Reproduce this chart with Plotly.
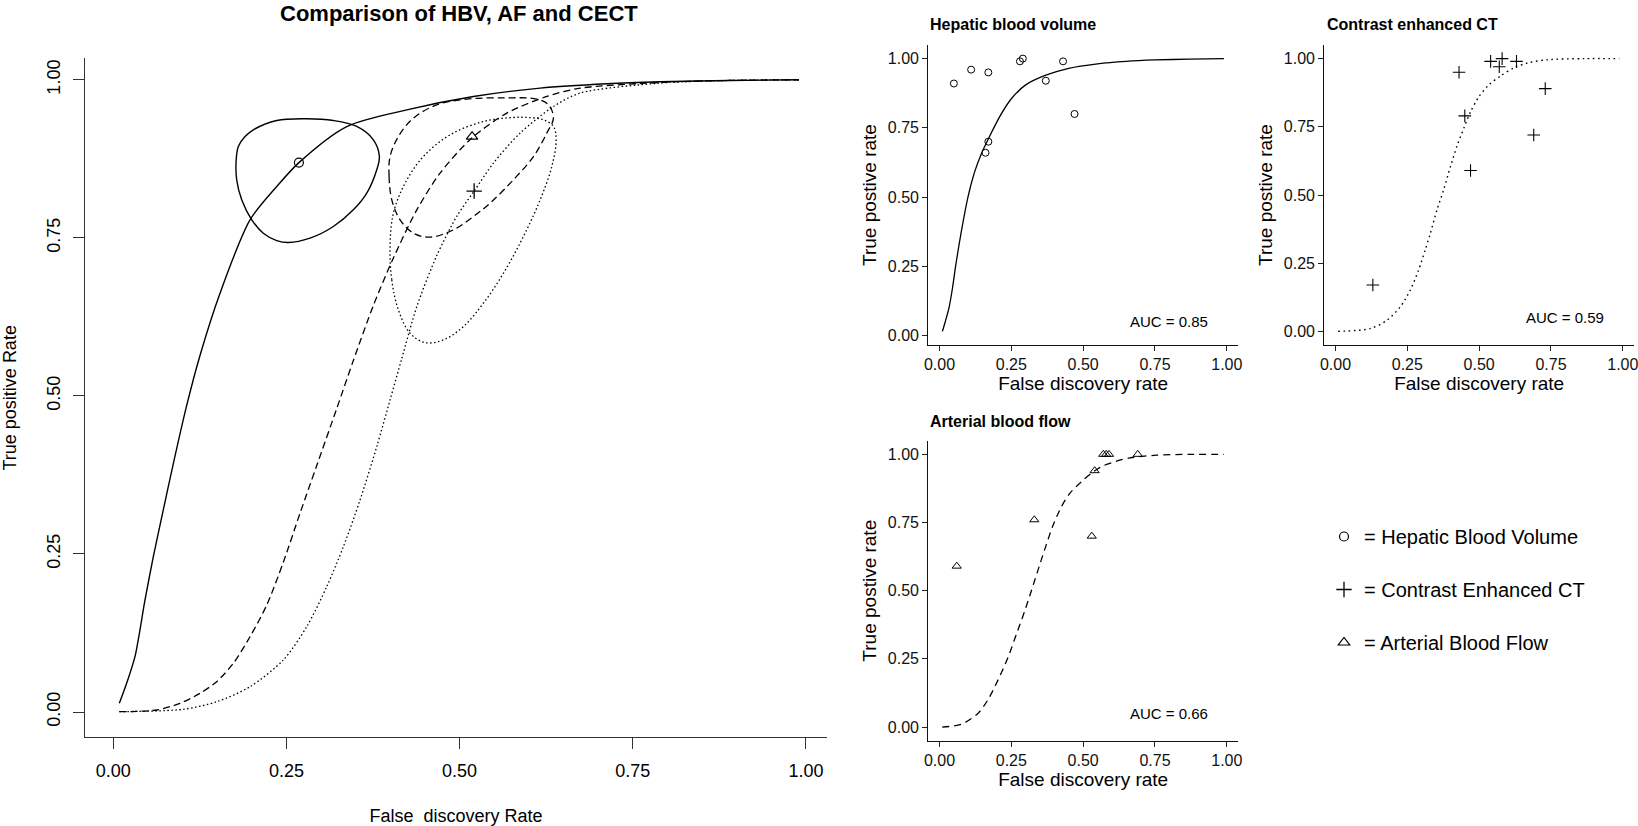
import plotly.graph_objects as go

W, H = 1638, 826

# ---------------- data ----------------
tick_vals = [0, 0.25, 0.5, 0.75, 1.0]
tick_labels = ["0.00", "0.25", "0.50", "0.75", "1.00"]

# main panel: SROC curves
hbv_curve_x = [0.0087, 0.0193, 0.0313, 0.0458, 0.0578, 0.0722, 0.0867, 0.1060, 0.1252, 0.1541,
               0.1974, 0.2360, 0.268, 0.3371, 0.4237, 0.5199, 0.6163, 0.7126, 0.7896, 0.89, 0.99]
hbv_curve_y = [0.0137, 0.0454, 0.0875, 0.1772, 0.2457, 0.3196, 0.3930, 0.4850, 0.5640, 0.6625,
               0.7785, 0.8312, 0.869, 0.9261, 0.9525, 0.9736, 0.9868, 0.9937, 0.9968, 0.999, 1.0]

af_curve_x = [0.0087, 0.0627, 0.0963, 0.1252, 0.1493, 0.1733, 0.1974, 0.2215, 0.2455, 0.2696,
              0.2938, 0.3226, 0.3466, 0.3755, 0.4044, 0.4382, 0.4718, 0.5176, 0.5682, 0.6259,
              0.674, 0.7896, 0.89, 0.99]
af_curve_y = [0.0005, 0.0032, 0.0138, 0.0296, 0.048, 0.077, 0.1191, 0.1690, 0.237, 0.3144,
              0.3900, 0.4800, 0.5560, 0.6430, 0.7180, 0.7943, 0.8524, 0.9078, 0.9473, 0.9736,
              0.9868, 0.9957, 0.999, 1.0]

cect_curve_x = [0.0087, 0.1011, 0.1493, 0.1974, 0.2455, 0.2793, 0.3082, 0.3322, 0.3563, 0.3804,
                0.3996, 0.4165, 0.4382, 0.4671, 0.4959, 0.521, 0.5488, 0.5874, 0.6355, 0.674,
                0.7896, 0.89, 0.99]
cect_curve_y = [0.0005, 0.0043, 0.0163, 0.040, 0.0823, 0.135, 0.1983, 0.2616, 0.3354, 0.4198,
                0.4937, 0.5590, 0.6413, 0.7220, 0.7840, 0.824, 0.8682, 0.9157, 0.9578, 0.979,
                0.9948, 0.999, 1.0]

# main panel: confidence regions
hbv_region_x = [0.2360, 0.2793, 0.3177, 0.3515, 0.3755, 0.3842, 0.3804, 0.3660, 0.3466, 0.3177,
                0.2841, 0.2527, 0.2360, 0.2166, 0.1999, 0.1854, 0.1782, 0.1772, 0.1805, 0.1902,
                0.2022, 0.2360]
hbv_region_y = [0.9356, 0.9383, 0.9356, 0.9262, 0.9051, 0.8787, 0.8576, 0.8207, 0.7943, 0.7679,
                0.7495, 0.7426, 0.7457, 0.7574, 0.7785, 0.8101, 0.8418, 0.8682, 0.8945, 0.9103,
                0.9209, 0.9356]

af_region_x = [0.4021, 0.3982, 0.3996, 0.4116, 0.4333, 0.4671, 0.5104, 0.5682, 0.6115, 0.6283,
               0.6355, 0.6259, 0.6066, 0.5777, 0.5440, 0.5199, 0.4910, 0.4574, 0.4333, 0.4141,
               0.4021]
af_region_y = [0.8101, 0.8470, 0.8786, 0.9103, 0.9394, 0.9604, 0.9695, 0.9715, 0.9695, 0.9604,
               0.9399, 0.9157, 0.8786, 0.8418, 0.8049, 0.7837, 0.7627, 0.7511, 0.7574, 0.7785,
               0.8101]

cect_region_x = [0.3996, 0.4021, 0.4116, 0.4285, 0.4502, 0.4766, 0.5055, 0.5344, 0.5633, 0.5921,
                 0.6163, 0.6331, 0.6394, 0.6355, 0.6210, 0.5971, 0.5777, 0.5344, 0.4863, 0.4477,
                 0.4213, 0.4044, 0.3996]
cect_region_y = [0.7362, 0.6835, 0.6361, 0.5992, 0.5843, 0.5886, 0.6097, 0.6467, 0.6941, 0.7521,
                 0.8101, 0.8628, 0.9051, 0.9261, 0.9367, 0.9404, 0.9404, 0.9340, 0.9130, 0.8787,
                 0.8365, 0.7891, 0.7362]

# main panel: summary points
hbv_summary = (0.268, 0.869)
cect_summary = (0.521, 0.824)
af_summary = (0.518, 0.910)

# small panels: study points
hbv_fdr = [0.05, 0.11, 0.17, 0.16, 0.17, 0.28, 0.29, 0.37, 0.43, 0.47]
hbv_tpr = [0.91, 0.96, 0.95, 0.66, 0.70, 0.99, 1.00, 0.92, 0.99, 0.80]

cect_fdr = [0.13, 0.43, 0.45, 0.47, 0.54, 0.57, 0.58, 0.63, 0.69, 0.73]
cect_tpr = [0.17, 0.95, 0.79, 0.59, 0.99, 0.97, 1.00, 0.99, 0.72, 0.89]

af_fdr = [0.06, 0.33, 0.53, 0.54, 0.57, 0.58, 0.59, 0.69]
af_tpr = [0.59, 0.76, 0.70, 0.94, 1.00, 1.00, 1.00, 1.00]

# small panels: fitted curves
hbv_fit_x = [0.01, 0.02, 0.033, 0.045, 0.056, 0.075, 0.099, 0.122, 0.145, 0.17, 0.212, 0.25,
             0.30, 0.37, 0.45, 0.55, 0.65, 0.75, 0.87, 0.99]
hbv_fit_y = [0.015, 0.05, 0.10, 0.17, 0.25, 0.37, 0.50, 0.59, 0.655, 0.71, 0.795, 0.855,
             0.905, 0.94, 0.965, 0.981, 0.99, 0.995, 0.998, 1.0]

cect_fit_x = [0.009, 0.12, 0.178, 0.225, 0.26, 0.289, 0.312, 0.33, 0.353, 0.376, 0.40, 0.423,
              0.447, 0.47, 0.499, 0.534, 0.575, 0.621, 0.668, 0.738, 0.866, 0.988]
cect_fit_y = [0.0, 0.01, 0.04, 0.089, 0.151, 0.224, 0.298, 0.359, 0.445, 0.518, 0.604, 0.68,
              0.746, 0.805, 0.860, 0.904, 0.937, 0.966, 0.984, 0.996, 1.0, 1.0]

af_fit_x = [0.0093, 0.0756, 0.1337, 0.1686, 0.2035, 0.2384, 0.2674, 0.2965, 0.3198, 0.3488,
            0.3721, 0.3953, 0.4244, 0.4535, 0.4942, 0.5349, 0.57, 0.6163, 0.663, 0.756, 0.87, 0.99]
af_fit_y = [0.0, 0.0098, 0.050, 0.100, 0.172, 0.255, 0.340, 0.425, 0.50, 0.595,
            0.670, 0.740, 0.808, 0.857, 0.90, 0.936, 0.958, 0.975, 0.987, 0.997, 1.0, 1.0]

auc_labels = {"hbv": "AUC = 0.85", "cect": "AUC = 0.59", "af": "AUC = 0.66"}
auc_pos = (0.8, 0.05)

legend_names = ["= Hepatic Blood Volume", "= Contrast Enhanced CT", "= Arterial Blood Flow"]

# ---------------- figure ----------------
FONT = "Liberation Sans, Arial, Helvetica, sans-serif"
BLACK = "#000000"


def dom_x(left, right):
    return [left / W, right / W]


def dom_y(top, bottom):
    return [1 - bottom / H, 1 - top / H]


fig = go.Figure()

# main panel curves
MAIN_DASH = "7px,4px"
MAIN_DOT = "1.5px,2.5px"
CURVE_SMOOTH = 0.8
fig.add_trace(go.Scatter(x=hbv_curve_x, y=hbv_curve_y, mode="lines", showlegend=False,
                         line=dict(color=BLACK, width=1.4, shape="spline", smoothing=CURVE_SMOOTH),
                         xaxis="x", yaxis="y"))
fig.add_trace(go.Scatter(x=af_curve_x, y=af_curve_y, mode="lines", showlegend=False,
                         line=dict(color=BLACK, width=1.3, dash=MAIN_DASH, shape="spline",
                                   smoothing=CURVE_SMOOTH),
                         xaxis="x", yaxis="y"))
fig.add_trace(go.Scatter(x=cect_curve_x, y=cect_curve_y, mode="lines", showlegend=False,
                         line=dict(color=BLACK, width=1.3, dash=MAIN_DOT, shape="spline",
                                   smoothing=CURVE_SMOOTH),
                         xaxis="x", yaxis="y"))
fig.add_trace(go.Scatter(x=hbv_region_x, y=hbv_region_y, mode="lines", showlegend=False,
                         line=dict(color=BLACK, width=1.4, shape="spline"), xaxis="x", yaxis="y"))
fig.add_trace(go.Scatter(x=af_region_x, y=af_region_y, mode="lines", showlegend=False,
                         line=dict(color=BLACK, width=1.3, dash=MAIN_DASH, shape="spline"),
                         xaxis="x", yaxis="y"))
fig.add_trace(go.Scatter(x=cect_region_x, y=cect_region_y, mode="lines", showlegend=False,
                         line=dict(color=BLACK, width=1.3, dash=MAIN_DOT, shape="spline"),
                         xaxis="x", yaxis="y"))

# main summary points (also used for the key)
fig.add_trace(go.Scatter(x=[hbv_summary[0]], y=[hbv_summary[1]], mode="markers",
                         name=legend_names[0], legendgroup="g1",
                         marker=dict(symbol="circle-open", size=9, color=BLACK, line=dict(width=1.2)),
                         xaxis="x", yaxis="y"))
fig.add_trace(go.Scatter(x=[cect_summary[0]], y=[cect_summary[1]], mode="markers",
                         name=legend_names[1], legendgroup="g2",
                         marker=dict(symbol="cross-thin-open", size=11, color=BLACK, line=dict(width=1.3)),
                         xaxis="x", yaxis="y"))
fig.add_trace(go.Scatter(x=[af_summary[0]], y=[af_summary[1]], mode="markers",
                         name=legend_names[2], legendgroup="g3",
                         marker=dict(symbol="triangle-up-open", size=10, color=BLACK, line=dict(width=1.2)),
                         xaxis="x", yaxis="y"))

# small panels
SMALL_DASH = "7px,5px"
SMALL_DOT = "1.6px,3.6px"
fig.add_trace(go.Scatter(x=hbv_fit_x, y=hbv_fit_y, mode="lines", showlegend=False,
                         line=dict(color=BLACK, width=1.3, shape="spline", smoothing=CURVE_SMOOTH),
                         xaxis="x2", yaxis="y2"))
fig.add_trace(go.Scatter(x=hbv_fdr, y=hbv_tpr, mode="markers", showlegend=False,
                         marker=dict(symbol="circle-open", size=7, color=BLACK, line=dict(width=1)),
                         xaxis="x2", yaxis="y2"))

fig.add_trace(go.Scatter(x=cect_fit_x, y=cect_fit_y, mode="lines", showlegend=False,
                         line=dict(color=BLACK, width=1.4, dash=SMALL_DOT, shape="spline",
                                   smoothing=CURVE_SMOOTH),
                         xaxis="x3", yaxis="y3"))
fig.add_trace(go.Scatter(x=cect_fdr, y=cect_tpr, mode="markers", showlegend=False,
                         marker=dict(symbol="cross-thin-open", size=9, color=BLACK, line=dict(width=1.1)),
                         xaxis="x3", yaxis="y3"))

fig.add_trace(go.Scatter(x=af_fit_x, y=af_fit_y, mode="lines", showlegend=False,
                         line=dict(color=BLACK, width=1.3, dash=SMALL_DASH, shape="spline",
                                   smoothing=CURVE_SMOOTH),
                         xaxis="x4", yaxis="y4"))
fig.add_trace(go.Scatter(x=af_fdr, y=af_tpr, mode="markers", showlegend=False,
                         marker=dict(symbol="triangle-up-open", size=8, color=BLACK, line=dict(width=1)),
                         xaxis="x4", yaxis="y4"))


def main_axis(domain, rng, title, angle, standoff, anchor):
    return dict(domain=domain, range=rng, anchor=anchor, tickmode="array", tickvals=tick_vals,
                ticktext=tick_labels, ticks="outside", ticklen=11, tickwidth=1, tickcolor="#333333",
                showline=True, linecolor="#333333", linewidth=1.2, showgrid=False, zeroline=False,
                tickangle=angle, tickfont=dict(family=FONT, size=18, color=BLACK),
                ticklabelstandoff=6,
                title=dict(text=title, font=dict(family=FONT, size=18, color=BLACK), standoff=standoff),
                automargin=False, fixedrange=True)


def small_axis(domain, rng, title, standoff, anchor):
    return dict(domain=domain, range=rng, anchor=anchor, tickmode="array", tickvals=tick_vals,
                ticktext=tick_labels, ticks="outside", ticklen=5, tickwidth=1, tickcolor="#222222",
                showline=True, linecolor="#111111", linewidth=1.2, showgrid=False, zeroline=False,
                tickfont=dict(family=FONT, size=16, color="#111111"), ticklabeloverflow="allow",
                title=dict(text=title, font=dict(family=FONT, size=19, color=BLACK), standoff=standoff),
                automargin=False, fixedrange=True)


xr_small = [-0.039, 1.039]
fig.update_layout(
    width=W, height=H, margin=dict(l=0, r=0, t=0, b=0),
    paper_bgcolor="white", plot_bgcolor="white",
    font=dict(family=FONT, color=BLACK),
    xaxis=main_axis(dom_x(85.3, 826.7), [-0.0404, 1.030], "False  discovery Rate", 0, 29, "y"),
    yaxis=main_axis(dom_y(58.3, 737.3), [-0.040, 1.034], "True positive Rate", -90, 23, "x"),
    xaxis2=small_axis(dom_x(928.3, 1238), xr_small, "False discovery rate", 1, "y2"),
    yaxis2=small_axis(dom_y(45, 345), [-0.034, 1.049], "True postive rate", 6, "x2"),
    xaxis3=small_axis(dom_x(1324.3, 1634), xr_small, "False discovery rate", 1, "y3"),
    yaxis3=small_axis(dom_y(45, 345), [-0.05, 1.05], "True postive rate", 6, "x3"),
    xaxis4=small_axis(dom_x(928.3, 1238), xr_small, "False discovery rate", 1, "y4"),
    yaxis4=small_axis(dom_y(440.7, 740.7), [-0.05, 1.05], "True postive rate", 6, "x4"),
    legend=dict(x=1324 / W, y=1 - 517 / H, xanchor="left", yanchor="top",
                font=dict(family=FONT, size=20, color=BLACK), bgcolor="rgba(0,0,0,0)",
                tracegroupgap=24, itemclick=False, itemdoubleclick=False),
    showlegend=True,
)

annotations = [
    dict(text="<b>Comparison of HBV, AF and CECT</b>", x=459 / W, y=1 - 13 / H, xref="paper", yref="paper",
         xanchor="center", yanchor="middle", showarrow=False, font=dict(family=FONT, size=22, color=BLACK)),
    dict(text="<b>Hepatic blood volume</b>", x=928 / W, y=1 - 25 / H, xref="paper", yref="paper",
         xanchor="left", yanchor="middle", showarrow=False, font=dict(family=FONT, size=16, color=BLACK)),
    dict(text="<b>Contrast enhanced CT</b>", x=1324.5 / W, y=1 - 25 / H, xref="paper", yref="paper",
         xanchor="left", yanchor="middle", showarrow=False, font=dict(family=FONT, size=16, color=BLACK)),
    dict(text="<b>Arterial blood flow</b>", x=928 / W, y=1 - 421 / H, xref="paper", yref="paper",
         xanchor="left", yanchor="middle", showarrow=False, font=dict(family=FONT, size=16, color=BLACK)),
    dict(text=auc_labels["hbv"], x=auc_pos[0], y=auc_pos[1], xref="x2", yref="y2", showarrow=False,
         xanchor="center", yanchor="middle", font=dict(family=FONT, size=15, color=BLACK)),
    dict(text=auc_labels["cect"], x=auc_pos[0], y=auc_pos[1], xref="x3", yref="y3", showarrow=False,
         xanchor="center", yanchor="middle", font=dict(family=FONT, size=15, color=BLACK)),
    dict(text=auc_labels["af"], x=auc_pos[0], y=auc_pos[1], xref="x4", yref="y4", showarrow=False,
         xanchor="center", yanchor="middle", font=dict(family=FONT, size=15, color=BLACK)),
]
fig.update_layout(annotations=annotations)

fig.write_html("out.html", config={"displayModeBar": False},
               post_script="document.body.style.margin='0';document.body.style.overflow='hidden';")
